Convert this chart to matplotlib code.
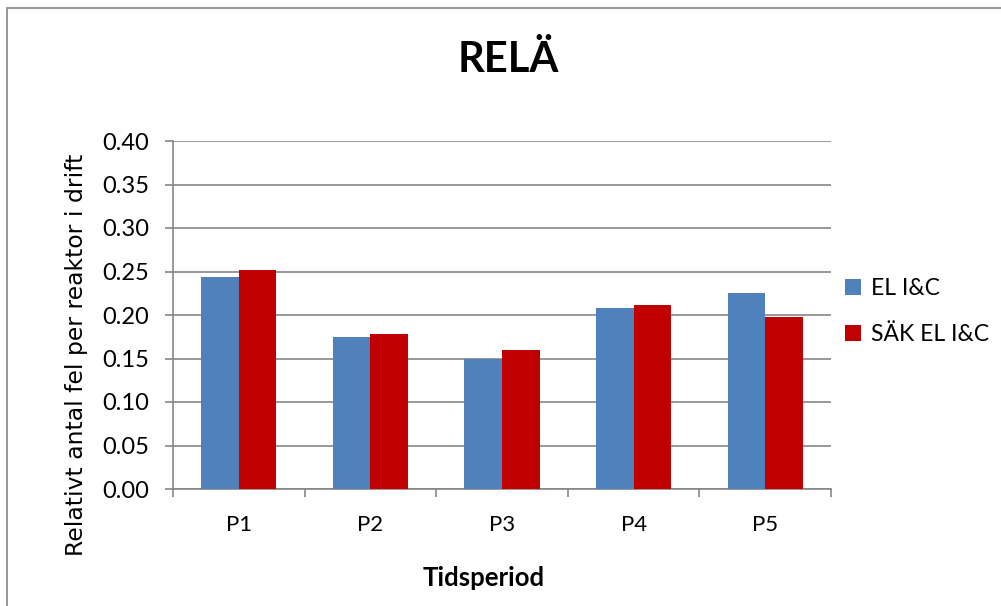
import numpy as np
import matplotlib
matplotlib.use("Agg")
import matplotlib.pyplot as plt
from matplotlib.patches import Rectangle

# data
periods = ["P1", "P2", "P3", "P4", "P5"]
el_ic = [0.244, 0.175, 0.149, 0.208, 0.225]
sak_el_ic = [0.252, 0.178, 0.160, 0.212, 0.198]
yticks = [0.00, 0.05, 0.10, 0.15, 0.20, 0.25, 0.30, 0.35, 0.40]

plt.rcParams['font.family'] = ['Lato', 'DejaVu Sans']

W, H = 1001, 606
fig = plt.figure(figsize=(W / 100, H / 100), dpi=100)
ax = fig.add_axes([173 / W, 117 / H, 658 / W, 348 / H])

# chart border like the office chart frame
fig.patches.append(Rectangle((7 / W, -0.01), 1.0, 1 - 8 / H + 0.01,
                             transform=fig.transFigure, fill=False,
                             edgecolor='#868686', linewidth=1.2))

x = np.arange(len(periods))
w = 0.285
ax.bar(x - w / 2, el_ic, w, color='#4F81BD', label='EL I&C', zorder=3)
ax.bar(x + w / 2, sak_el_ic, w, color='#C00000', label='SÄK EL I&C', zorder=3)

ax.set_xlim(-0.5, len(periods) - 0.5)
ax.set_ylim(0, 0.40)
ax.set_yticks(yticks)
ax.set_yticklabels([f"{v:.2f}" for v in yticks], fontsize=17)
ax.set_xticks(x)
ax.set_xticklabels(periods, fontsize=16)
ax.set_xticks(np.arange(-0.5, len(periods)), minor=True)
ax.tick_params(axis='x', which='major', length=0, pad=19)
ax.tick_params(axis='x', which='minor', length=6, color='#868686', width=1.2)
ax.tick_params(axis='y', length=6, color='#868686', width=1.2, pad=11)

ax.grid(axis='y', color='#868686', linewidth=1.2, zorder=0)
for s in ['top', 'right']:
    ax.spines[s].set_visible(False)
for s in ['left', 'bottom']:
    ax.spines[s].set_color('#868686')
    ax.spines[s].set_linewidth(1.2)

fig.text(77 / W, 1 - 355 / H, "Relativt antal fel per reaktor i drift",
         rotation=90, ha='center', va='center', fontsize=16.9,
         family='DejaVu Sans')
fig.text(484 / W, 1 - 578 / H, "Tidsperiod", ha='center', va='center',
         fontsize=18.5, fontweight='bold')
fig.text(508 / W, 1 - 60 / H, "RELÄ", ha='center', va='center',
         fontsize=30, fontweight='bold')

ax.legend(loc='center left', bbox_to_anchor=(0.99, 0.51), frameon=False,
          fontsize=16.5, handlelength=0.7, handleheight=0.7,
          handletextpad=0.45, labelspacing=1.1)

fig.savefig("out.png", dpi=100)
